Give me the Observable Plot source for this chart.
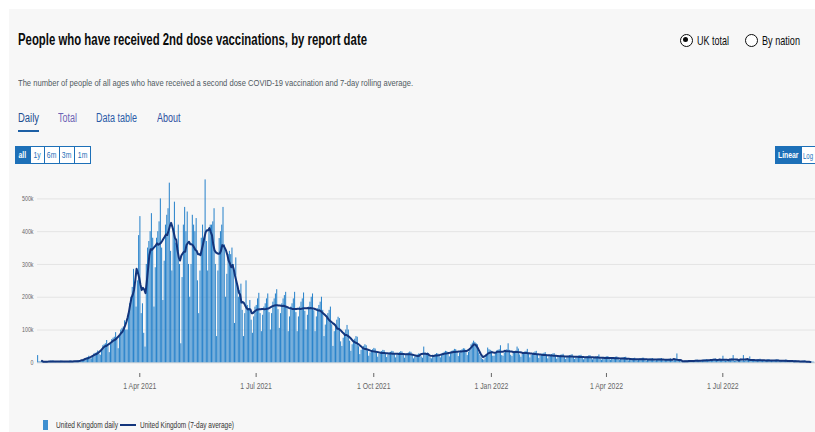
<!DOCTYPE html>
<html><head><meta charset="utf-8">
<script src="https://cdn.jsdelivr.net/npm/d3@7"></script>
<script src="https://cdn.jsdelivr.net/npm/@observablehq/plot@0.6"></script>
<style>
html,body{margin:0;padding:0;background:#fff;width:815px;height:432px;overflow:hidden;font-family:"Liberation Sans",Arial,sans-serif;}
#panel{position:absolute;left:9px;top:9px;right:0;bottom:0;background:#f7f7f7;}
.t{position:absolute;white-space:nowrap;display:inline-block;line-height:1;transform-origin:0 50%;}
.btn{position:absolute;top:146px;height:18px;box-sizing:border-box;border:1px solid #1d70b8;background:#fff;color:#1d70b8;display:flex;align-items:center;justify-content:center;overflow:hidden;}
.btn span{display:inline-block;font-size:9.5px;line-height:1;transform:scaleX(0.72);white-space:nowrap;}
.btn.on{background:#1d70b8;color:#fff;font-weight:bold;}
.radio{position:absolute;top:33.5px;width:13px;height:13px;box-sizing:border-box;border:1.6px solid #0b0c0c;border-radius:50%;background:#fff;}
.radio .dot{position:absolute;left:2.3px;top:2.3px;width:5.2px;height:5.2px;border-radius:50%;background:#0b0c0c;}
#chart{position:absolute;left:0;top:170px;}
</style>
</head>
<body>
<div id="panel"></div>
<div class="t" data-w="349" style="left:18px;top:32.3px;font-size:15.8px;font-weight:bold;color:#0b0c0c">People who have received 2nd dose vaccinations, by report date</div>
<div class="t" data-w="395" style="left:18px;top:77.8px;font-size:9.7px;color:#505a5f">The number of people of all ages who have received a second dose COVID-19 vaccination and 7-day rolling average.</div>
<div class="t" data-w="21" style="left:18px;top:111.7px;font-size:12.5px;color:#1d4f91">Daily</div>
<div style="position:absolute;left:17.5px;top:129.5px;width:21.5px;height:2.6px;background:#1d5fa5"></div>
<div class="t" data-w="19" style="left:58px;top:111.7px;font-size:12.5px;color:#6d63b5">Total</div>
<div class="t" data-w="41" style="left:96px;top:111.7px;font-size:12.5px;color:#2a5ba8">Data table</div>
<div class="t" data-w="23.5" style="left:157px;top:111.7px;font-size:12.5px;color:#2d4f9f">About</div>

<div class="btn on" style="left:15px;width:15.5px"><span>all</span></div>
<div class="btn" style="left:29.5px;width:15.5px"><span>1y</span></div>
<div class="btn" style="left:44px;width:16px"><span>6m</span></div>
<div class="btn" style="left:59px;width:16px"><span>3m</span></div>
<div class="btn" style="left:74px;width:16.5px"><span>1m</span></div>

<div class="radio" style="left:679.7px"><div class="dot"></div></div>
<div class="t" data-w="32" style="left:697px;top:33.9px;font-size:13.5px;color:#0b0c0c">UK total</div>
<div class="radio" style="left:745px"></div>
<div class="t" data-w="38" style="left:762.3px;top:33.9px;font-size:13.5px;color:#0b0c0c">By nation</div>

<div class="btn on" style="left:775px;width:26.5px"><span>Linear</span></div>
<div class="btn" style="left:800.5px;width:14.5px;border-right:none"></div>
<div class="t" data-w="10" style="left:803px;top:150.5px;font-size:9.5px;color:#1d70b8">Log</div>

<div id="chart"></div>

<div style="position:absolute;left:42.5px;top:420px;width:5px;height:9.5px;background:#3f8fd0"></div>
<div class="t" data-w="62" style="left:56px;top:420.8px;font-size:8.8px;color:#333">United Kingdom daily</div>
<div style="position:absolute;left:120px;top:424.3px;width:16px;height:2.2px;background:#13357c"></div>
<div class="t" data-w="94" style="left:139.5px;top:420.8px;font-size:8.8px;color:#333">United Kingdom (7-day average)</div>

<script>
// ---- data (people receiving a 2nd dose, thousands per day, by report date) ----
const startDate = "2021-01-11";
const dailyThousands = [
  22,3,3,3,4,3,4,        2,3,4,5,5,6,3,         2,3,4,4,5,5,4,          2,4,4,4,5,6,3,
  2,4,5,6,6,7,5,         6,10,13,14,16,20,12,   12,22,27,29,30,36,26,   23,42,52,55,58,68,52,
  31,58,71,75,78,92,71,  43,81,100,105,109,128,100,
  100,150,180,200,230,285,240,  170,250,388,446,150,180,90,
  48,300,350,370,400,455,380,   170,290,380,400,430,500,350,
  190,310,420,450,470,548,340,  280,410,490,365,360,420,300,
  58,260,420,474,400,460,300,   200,300,450,420,400,440,250,
  150,280,380,420,380,558,370,  280,400,420,420,430,470,300,
  80,280,379,400,420,474,360,   200,270,330,340,330,350,300,
  120,320,236,200,220,240,160,  80,150,250,175,165,190,130,
  90,140,170,175,195,212,150,   95,145,170,180,195,210,153,
  100,150,185,195,210,223,162,  105,150,180,195,205,215,168,
  95,140,170,180,195,215,153,   95,140,170,185,195,213,157,
  100,145,170,185,200,210,159,  95,140,165,175,185,200,160,
  80,115,140,150,160,170,116,   50,95,115,130,139,135,64,
  50,75,90,100,114,100,66,      35,55,65,72,80,78,49,
  25,38,45,50,55,52,36,         20,30,37,40,44,42,32,
  17,26,32,34,38,37,26,         16,24,30,32,35,34,25,
  15,23,29,31,34,33,24,         14,22,28,30,33,32,23,
  12,18,22,24,27,26,18,         14,48,30,28,30,24,15,
  12,19,23,25,28,27,20,         15,24,29,32,35,34,27,
  18,28,35,37,41,40,32,         19,30,37,40,43,42,34,
  22,32,38,55,60,66,62,         58,55,30,22,15,10,8,
  15,20,45,40,38,35,20,         20,30,36,38,40,52,22,
  20,30,36,40,58,38,23,         19,28,34,36,48,42,24,
  17,26,31,33,35,41,27,         15,23,28,30,33,35,25,
  13,21,25,27,29,31,22,         12,19,23,25,27,28,20,
  11,17,21,23,24,26,18,         10,16,20,22,23,25,17,
  10,15,19,21,22,23,16,         9,15,18,19,21,22,15,
  9,14,17,18,19,24,11,          8,13,16,17,18,19,14,
  8,12,15,16,17,18,12,          7,11,14,15,16,17,11,
  6,10,12,13,13,14,9,           6,9,12,13,14,14,9,
  5,9,11,12,12,13,8,            5,9,11,12,12,13,8,
  5,8,10,10,11,12,7,            5,8,10,27,6,5,3,
  3,4,5,6,6,7,4,                3,5,6,7,8,8,5,
  4,6,7,8,9,10,5,               5,8,10,10,11,12,7,
  5,8,9,10,20,6,5,              5,8,9,10,12,22,4,
  5,8,9,10,11,5,22,             5,7,9,10,18,9,5,
  4,7,8,9,10,11,7,              4,6,7,8,9,10,5,
  4,6,7,8,9,9,6,                3,5,6,7,8,8,5,
  3,4,5,6,6,7,4,                2,3,4,5,5,6,3,
  1,2,3,3,2,2
];
const yTicks = [0, 100, 200, 300, 400, 500];
const xTickDates = ["2021-04-01", "2021-07-01", "2021-10-01", "2022-01-01", "2022-04-01", "2022-07-01"];
const xDomain = ["2021-01-11T00:00Z", "2022-09-11T12:00Z"];
const seriesNames = ["United Kingdom daily", "United Kingdom (7-day average)"];

// fit HTML texts to their measured widths (the reference is horizontally condensed)
document.querySelectorAll(".t[data-w]").forEach(el => {
  const w = el.getBoundingClientRect().width;
  el.style.transform = `scaleX(${(+el.dataset.w) / w})`;
});

const t0 = new Date(startDate + "T00:00Z");
const rows = dailyThousands.map((v, i) => ({date: d3.utcDay.offset(t0, i), value: v}));

const plot = Plot.plot({
  width: 815, height: 230,
  marginLeft: 37, marginRight: 0, marginTop: 12, marginBottom: 27,
  style: {background: "transparent", fontFamily: "'Liberation Sans', Arial, sans-serif", overflow: "visible"},
  x: {type: "utc", domain: xDomain.map(d => new Date(d)), label: null},
  y: {domain: [0, 550], insetBottom: 10.7, label: null},
  marks: [
    Plot.gridY(yTicks.slice(1), {stroke: "#e4e4e4", strokeOpacity: 1}),
    Plot.ruleY([0], {stroke: "#cfcfcf"}),
    Plot.rectY(rows, {x: "date", y: "value", interval: "day", fill: "#2b84cb", insetLeft: 0.1, insetRight: 0.15, title: () => seriesNames[0]}),
    Plot.lineY(rows, Plot.windowY({k: 7, anchor: "middle", strict: true, reduce: "mean"},
      {x: d => new Date(+d.date + 43200000), y: "value", stroke: "#13357c", strokeWidth: 2, curve: "linear"})),
    Plot.axisY({ticks: yTicks, tickSize: 0, tickPadding: 4, tickFormat: d => d === 0 ? "0" : d + "k", fontSize: 7, color: "#666", label: null}),
    Plot.axisX({ticks: xTickDates.map(d => new Date(d + "T00:00Z")), tickSize: 4, tickPadding: 5,
      tickFormat: d3.utcFormat("%-d %b %Y"), fontSize: 9, color: "#666", label: null})
  ]
});
document.getElementById("chart").appendChild(plot);

// condense SVG texts horizontally around their anchors
plot.querySelectorAll("text").forEach(t => {
  const tr = t.getAttribute("transform");
  if (tr) t.setAttribute("transform", tr + " scale(0.76,1)");
  else {
    const x = +(t.getAttribute("x") || 0);
    t.setAttribute("transform", `translate(${x},0) scale(0.76,1) translate(${-x},0)`);
  }
});
</script>
</body></html>
